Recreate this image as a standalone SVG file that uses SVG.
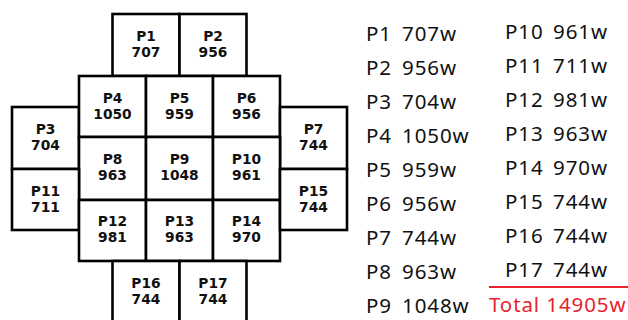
<svg xmlns="http://www.w3.org/2000/svg" width="628" height="320" viewBox="0 0 628 320">
<style>
.c{fill:#fff;stroke:#000;stroke-width:2.6}
.n{font-family:"DejaVu Sans",sans-serif;font-weight:bold;font-size:13.8px;fill:#111;text-anchor:middle}
.t{font-family:"Noto Sans","Liberation Sans",sans-serif;font-size:20.5px;letter-spacing:0.9px;fill:#111}
.r{fill:#e8232b}
</style>
<rect width="628" height="320" fill="#fff"/>
<g id="P1"><rect class="c" x="112.5" y="14" width="67" height="62"/><text class="n" x="146" y="41">P1</text><text class="n" x="146" y="57">707</text></g>
<g id="P2"><rect class="c" x="179.5" y="14" width="67" height="62"/><text class="n" x="213" y="41">P2</text><text class="n" x="213" y="57">956</text></g>
<g id="P3"><rect class="c" x="12" y="107" width="67" height="62"/><text class="n" x="45.5" y="134">P3</text><text class="n" x="45.5" y="150">704</text></g>
<g id="P4"><rect class="c" x="79" y="76" width="67" height="61"/><text class="n" x="112.5" y="103">P4</text><text class="n" x="112.5" y="119">1050</text></g>
<g id="P5"><rect class="c" x="146" y="76" width="67" height="61"/><text class="n" x="179.5" y="103">P5</text><text class="n" x="179.5" y="119">959</text></g>
<g id="P6"><rect class="c" x="213" y="76" width="67" height="61"/><text class="n" x="246.5" y="103">P6</text><text class="n" x="246.5" y="119">956</text></g>
<g id="P7"><rect class="c" x="280" y="107" width="67" height="62"/><text class="n" x="313.5" y="134">P7</text><text class="n" x="313.5" y="150">744</text></g>
<g id="P8"><rect class="c" x="79" y="137" width="67" height="63"/><text class="n" x="112.5" y="164">P8</text><text class="n" x="112.5" y="180">963</text></g>
<g id="P9"><rect class="c" x="146" y="137" width="67" height="63"/><text class="n" x="179.5" y="164">P9</text><text class="n" x="179.5" y="180">1048</text></g>
<g id="P10"><rect class="c" x="213" y="137" width="67" height="63"/><text class="n" x="246.5" y="164">P10</text><text class="n" x="246.5" y="180">961</text></g>
<g id="P11"><rect class="c" x="12" y="169" width="67" height="61"/><text class="n" x="45.5" y="196">P11</text><text class="n" x="45.5" y="212">711</text></g>
<g id="P12"><rect class="c" x="79" y="200" width="67" height="61"/><text class="n" x="112.5" y="226">P12</text><text class="n" x="112.5" y="242">981</text></g>
<g id="P13"><rect class="c" x="146" y="200" width="67" height="61"/><text class="n" x="179.5" y="226">P13</text><text class="n" x="179.5" y="242">963</text></g>
<g id="P14"><rect class="c" x="213" y="200" width="67" height="61"/><text class="n" x="246.5" y="226">P14</text><text class="n" x="246.5" y="242">970</text></g>
<g id="P15"><rect class="c" x="280" y="169" width="67" height="61"/><text class="n" x="313.5" y="196">P15</text><text class="n" x="313.5" y="212">744</text></g>
<g id="P16"><rect class="c" x="112.5" y="261" width="67" height="62"/><text class="n" x="146" y="288">P16</text><text class="n" x="146" y="304">744</text></g>
<g id="P17"><rect class="c" x="179.5" y="261" width="67" height="62"/><text class="n" x="213" y="288">P17</text><text class="n" x="213" y="304">744</text></g>
<g id="connectors"></g>
<g id="legend">
<text class="t" x="366" y="40.5">P1</text><text class="t" x="402" y="40.5">707w</text>
<text class="t" x="366" y="74.5">P2</text><text class="t" x="402" y="74.5">956w</text>
<text class="t" x="366" y="108.5">P3</text><text class="t" x="402" y="108.5">704w</text>
<text class="t" x="366" y="142.5">P4</text><text class="t" x="402" y="142.5">1050w</text>
<text class="t" x="366" y="176.5">P5</text><text class="t" x="402" y="176.5">959w</text>
<text class="t" x="366" y="210.5">P6</text><text class="t" x="402" y="210.5">956w</text>
<text class="t" x="366" y="244.5">P7</text><text class="t" x="402" y="244.5">744w</text>
<text class="t" x="366" y="278.5">P8</text><text class="t" x="402" y="278.5">963w</text>
<text class="t" x="366" y="312.5">P9</text><text class="t" x="402" y="312.5">1048w</text>
<text class="t" x="505" y="38.5">P10</text><text class="t" x="553" y="38.5">961w</text>
<text class="t" x="505" y="72.5">P11</text><text class="t" x="553" y="72.5">711w</text>
<text class="t" x="505" y="106.5">P12</text><text class="t" x="553" y="106.5">981w</text>
<text class="t" x="505" y="140.5">P13</text><text class="t" x="553" y="140.5">963w</text>
<text class="t" x="505" y="174.5">P14</text><text class="t" x="553" y="174.5">970w</text>
<text class="t" x="505" y="208.5">P15</text><text class="t" x="553" y="208.5">744w</text>
<text class="t" x="505" y="242.5">P16</text><text class="t" x="553" y="242.5">744w</text>
<text class="t" x="505" y="276.5">P17</text><text class="t" x="553" y="276.5">744w</text>
<line x1="489" y1="287" x2="628" y2="287" stroke="#e8232b" stroke-width="2"/>
<text class="t r" x="489" y="311.5">Total 14905w</text>
</g>
</svg>
